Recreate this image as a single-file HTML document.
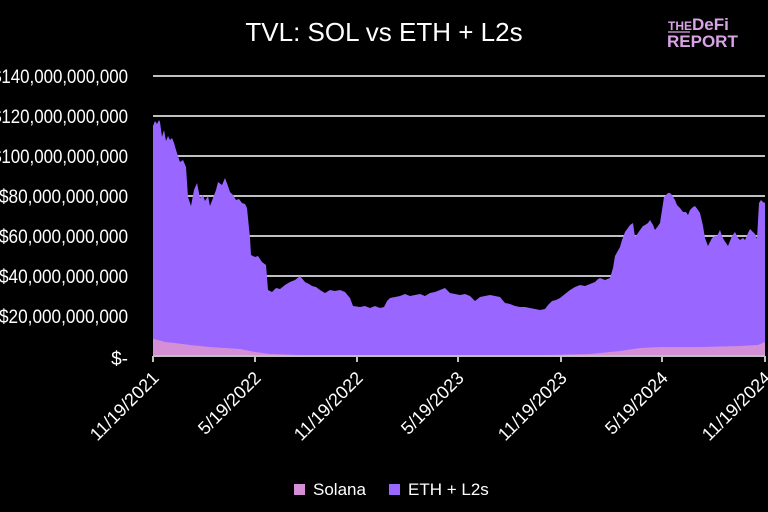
<!DOCTYPE html>
<html><head><style>body{margin:0;background:#000}svg{display:block}</style></head><body>
<svg width="768" height="512" xmlns="http://www.w3.org/2000/svg" font-family="Liberation Sans, sans-serif">
<rect width="768" height="512" fill="#000"/>
<text x="384" y="41" fill="#fff" font-size="26" text-anchor="middle">TVL: SOL vs ETH + L2s</text>
<g font-weight="bold" fill="#d9a3e6" font-size="12"><text x="668" y="30">THE</text><text x="692" y="30" font-size="17">DeFi</text><text x="667" y="47" font-size="17">REPORT</text></g>
<line x1="668" y1="32" x2="690" y2="32" stroke="#d9a3e6" stroke-width="1.2"/>
<g stroke="#bfbfbf" stroke-width="2">
<line x1="153" y1="76" x2="765" y2="76"/><line x1="153" y1="116" x2="765" y2="116"/><line x1="153" y1="156" x2="765" y2="156"/><line x1="153" y1="196" x2="765" y2="196"/><line x1="153" y1="236" x2="765" y2="236"/><line x1="153" y1="276" x2="765" y2="276"/><line x1="153" y1="316" x2="765" y2="316"/>
</g>
<polygon fill="#9966ff" points="153,356 153,126 155,121 157,124 159,120 160,122 162,137 164,130 166,141 168,136 170,140 172,138 174,143 176,150 178,156 180,162 183,160 186,167 188,197 191,206 194,190 197,183 200,198 203,195 205,201 208,196 210,206 213,198 216,190 218,182 222,185 225,178 228,186 230,192 233,195 236,200 239,199 242,203 245,204 247,208 250,238 251,255 255,257 258,256 262,262 266,265 268,290 272,292 276,288 280,289 285,285 290,282 295,280 300,276 305,282 309,284 312,286 316,287 320,290 325,293 330,290 335,291 340,290 345,292 350,298 353,306 360,307 365,306 370,308 375,306 380,308 384,307 387,301 390,298 395,297 400,296 405,294 410,296 415,295 420,294 425,296 430,293 435,292 440,290 445,288 450,293 455,294 460,295 465,294 470,296 475,301 480,297 485,296 490,295 495,296 500,297 505,303 510,304 515,306 520,307 525,307 530,308 535,309 540,310 545,309 548,305 552,301 556,300 560,298 565,294 570,290 575,287 580,285 585,286 590,284 595,282 598,279 600,278 605,280 610,278 613,268 615,256 620,247 622,240 625,232 630,225 633,223 635,237 638,233 640,230 643,226 645,225 648,223 650,220 653,225 655,230 658,226 660,223 662,210 664,197 666,195 668,193 670,193 672,195 675,200 677,205 680,208 683,212 686,212 688,215 690,210 693,207 695,206 698,210 700,213 703,226 705,238 708,246 710,242 712,238 715,236 717,236 720,230 722,236 724,240 726,243 728,246 732,236 735,232 738,238 740,240 743,238 745,240 748,233 750,229 753,232 755,234 757,239 759,203 761,200 763,202 765,203 765,356"/>
<polygon fill="#d48fd6" points="153,356 153,339 158,340 165,342 175,343 190,345 210,347 240,349 255,352 270,354 300,355 550,355 590,354 620,351 640,348 660,347 700,347 740,346 758,345 765,342 765,356"/>
<g stroke="#bfbfbf" stroke-width="2"><line x1="153" y1="356" x2="765" y2="356"/>
<line x1="153" y1="356" x2="153" y2="362"/><line x1="255" y1="356" x2="255" y2="362"/><line x1="357" y1="356" x2="357" y2="362"/><line x1="458" y1="356" x2="458" y2="362"/><line x1="561" y1="356" x2="561" y2="362"/><line x1="662" y1="356" x2="662" y2="362"/><line x1="765" y1="356" x2="765" y2="362"/></g>
<g fill="#fff" font-size="19" lengthAdjust="spacingAndGlyphs">
<text x="-8" y="83" textLength="136" lengthAdjust="spacingAndGlyphs">$140,000,000,000</text>
<text x="-8" y="123" textLength="136" lengthAdjust="spacingAndGlyphs">$120,000,000,000</text>
<text x="-8" y="163" textLength="136" lengthAdjust="spacingAndGlyphs">$100,000,000,000</text>
<text x="-1" y="203" textLength="129" lengthAdjust="spacingAndGlyphs">$80,000,000,000</text>
<text x="-1" y="243" textLength="129" lengthAdjust="spacingAndGlyphs">$60,000,000,000</text>
<text x="-1" y="283" textLength="129" lengthAdjust="spacingAndGlyphs">$40,000,000,000</text>
<text x="-1" y="323" textLength="129" lengthAdjust="spacingAndGlyphs">$20,000,000,000</text>
<text x="128" y="365" text-anchor="end">$-</text>
</g>
<g fill="#fff" font-size="18" text-anchor="end">
<text transform="translate(160,379) rotate(-45)">11/19/2021</text>
<text transform="translate(262,379) rotate(-45)">5/19/2022</text>
<text transform="translate(364,379) rotate(-45)">11/19/2022</text>
<text transform="translate(465,379) rotate(-45)">5/19/2023</text>
<text transform="translate(568,379) rotate(-45)">11/19/2023</text>
<text transform="translate(669,379) rotate(-45)">5/19/2024</text>
<text transform="translate(772,379) rotate(-45)">11/19/2024</text>
</g>
<rect x="294" y="484" width="11" height="11" fill="#d48fd6"/>
<text x="313" y="495" fill="#fff" font-size="17">Solana</text>
<rect x="389" y="484" width="11" height="11" fill="#9966ff"/>
<text x="408" y="495" fill="#fff" font-size="17">ETH + L2s</text>
</svg>
</body></html>
